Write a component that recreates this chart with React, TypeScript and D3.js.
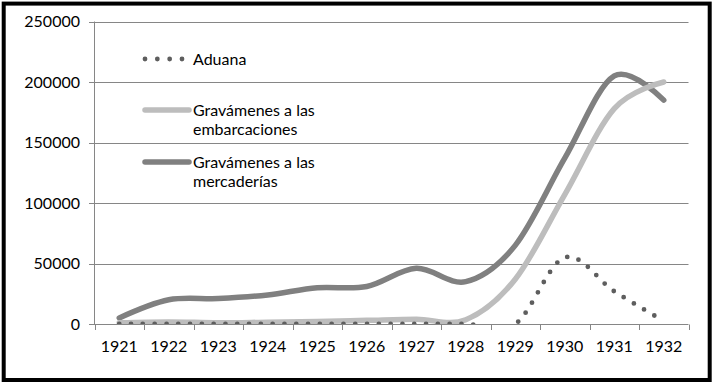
import React from "react";
import * as d3 from "d3";

const years = ["1921","1922","1923","1924","1925","1926","1927","1928","1929","1930","1931","1932"];
const aduana = [0, 0, 0, 0, 0, 0, 0, 0, 0, 55000, 27000, 2500];
const embarcaciones = [1000, 1700, 1000, 1500, 2000, 3000, 4000, 3500, 37000, 107000, 178000, 200000];
const mercaderias = [5000, 20000, 21000, 24000, 30000, 31000, 46000, 35000, 65000, 137000, 205000, 185000];
const yTicks = [0, 50000, 100000, 150000, 200000, 250000];

const W = 716, H = 385;
const FONT = "Lato, 'Open Sans', sans-serif";
const FS = 16;

export default function App() {
  const x = d3.scaleBand<string>().domain(years).range([94.5, 688.5]);
  const y = d3.scaleLinear().domain([0, 250000]).range([324, 21.5]);
  const cx = (i: number) => (x(years[i]) as number) + x.bandwidth() / 2;
  const line = d3
    .line<number>()
    .x((_, i) => cx(i))
    .y((d) => y(d))
    .curve(d3.curveCardinal.tension(0));

  const boundaries = d3.range(years.length + 1).map((i) => 94.5 + i * x.bandwidth());

  return (
    <svg width={W} height={H} style={{ position: "absolute", left: 0, top: 0 }}>
      <rect x={0} y={0} width={W} height={H} fill="#fff" />
      <defs>
        <clipPath id="plot">
          <rect x={94.5} y={21.5} width={594} height={302.5} />
        </clipPath>
      </defs>
      {yTicks.map((t) => (
        <line key={t} x1={89} x2={688.5} y1={Math.round(y(t)) + 0.5} y2={Math.round(y(t)) + 0.5} stroke="#868686" strokeWidth={1} />
      ))}
      <line x1={94.5} x2={94.5} y1={21.5} y2={324.5} stroke="#868686" strokeWidth={1} />
      {boundaries.map((b, i) => (
        <line key={i} x1={Math.round(b) + 0.5} x2={Math.round(b) + 0.5} y1={324.5} y2={330} stroke="#868686" strokeWidth={1} />
      ))}
      {yTicks.map((t) => (
        <text key={t} x={80} y={y(t)} dy="0.36em" textAnchor="end" fontFamily={FONT} fontSize={FS} fill="#000">
          {t}
        </text>
      ))}
      {years.map((yr, i) => (
        <text key={yr} x={cx(i)} y={346} dy="0.36em" textAnchor="middle" fontFamily={FONT} fontSize={FS} fill="#000">
          {yr}
        </text>
      ))}
      <g clipPath="url(#plot)">
        <path d={line(mercaderias) || ""} fill="none" stroke="#808080" strokeWidth={5.5} strokeLinecap="round" strokeLinejoin="round" />
        <path d={line(embarcaciones) || ""} fill="none" stroke="#bdbdbd" strokeWidth={5.5} strokeLinecap="round" strokeLinejoin="round" />
        <path d={line(aduana) || ""} fill="none" stroke="#5e5e5e" strokeWidth={4.8} strokeLinecap="round" strokeDasharray="0 11.8" />
      </g>
      <line x1={145} x2={182} y1={59} y2={59} stroke="#5e5e5e" strokeWidth={4.8} strokeLinecap="round" strokeDasharray="0 12.33" />
      <text x={193} y={59} dy="0.36em" fontFamily={FONT} fontSize={FS} fill="#000">Aduana</text>
      <line x1={145} x2={189} y1={110} y2={110} stroke="#bdbdbd" strokeWidth={5.5} strokeLinecap="round" />
      <text x={193} y={110} dy="0.36em" fontFamily={FONT} fontSize={FS} fill="#000">Gravámenes a las</text>
      <text x={193} y={129.5} dy="0.36em" fontFamily={FONT} fontSize={FS} fill="#000">embarcaciones</text>
      <line x1={145} x2={189} y1={162} y2={162} stroke="#808080" strokeWidth={5.5} strokeLinecap="round" />
      <text x={193} y={162} dy="0.36em" fontFamily={FONT} fontSize={FS} fill="#000">Gravámenes a las</text>
      <text x={193} y={181.5} dy="0.36em" fontFamily={FONT} fontSize={FS} fill="#000">mercaderías</text>
      <rect x={3.7} y={3.6} width={706} height={376.4} fill="none" stroke="#000" strokeWidth={4} />
    </svg>
  );
}
